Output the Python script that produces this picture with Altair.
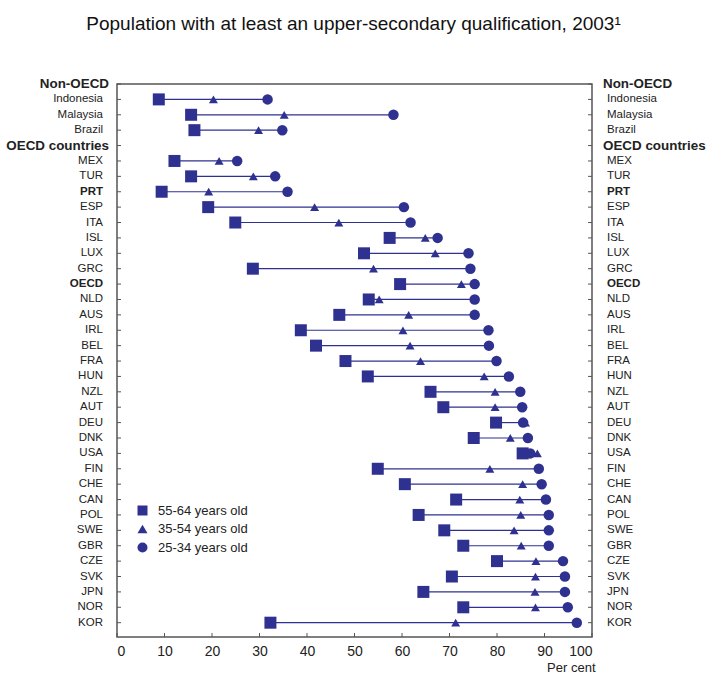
import altair as alt
import pandas as pd

# ---------------- data ----------------
rows = ["Non-OECD", "Indonesia", "Malaysia", "Brazil", "OECD countries",
        "MEX", "TUR", "PRT", "ESP", "ITA", "ISL", "LUX", "GRC", "OECD",
        "NLD", "AUS", "IRL", "BEL", "FRA", "HUN", "NZL", "AUT", "DEU", "DNK",
        "USA", "FIN", "CHE", "CAN", "POL", "SWE", "GBR", "CZE", "SVK", "JPN",
        "NOR", "KOR"]
headers = ["Non-OECD", "OECD countries"]
bold_rows = ["PRT", "OECD"]

countries = [r for r in rows if r not in headers]

age_55_64 = [8.8, 15.6, 16.3, 12.1, 15.6, 9.4, 19.2, 24.9, 57.4, 52.0, 28.6,
             59.6, 53.0, 46.8, 38.7, 41.9, 48.1, 52.8, 66.0, 68.7, 79.8, 75.1,
             85.4, 54.9, 60.6, 71.4, 63.5, 68.9, 72.9, 80.0, 70.5, 64.5, 72.9, 32.3]
age_35_54 = [20.3, 35.2, 29.8, 21.5, 28.7, 19.3, 41.6, 46.7, 64.9, 67.0, 54.0,
             72.5, 55.2, 61.4, 60.2, 61.7, 63.9, 77.3, 79.6, 79.6, 86.0, 82.8,
             88.5, 78.5, 85.4, 84.8, 85.0, 83.6, 85.1, 88.2, 88.1, 88.0, 88.1, 71.3]
age_25_34 = [31.7, 58.2, 34.8, 25.3, 33.3, 35.9, 60.4, 61.8, 67.5, 74.0, 74.4,
             75.3, 75.3, 75.3, 78.2, 78.3, 79.9, 82.5, 84.9, 85.3, 85.5, 86.5,
             87.0, 88.8, 89.4, 90.3, 90.9, 90.9, 90.9, 93.9, 94.3, 94.3, 94.9, 96.8]

series_names = ["55-64 years old", "35-54 years old", "25-34 years old"]
series_values = [age_55_64, age_35_54, age_25_34]
series_shapes = ["square", "triangle-up", "circle"]
series_sizes = [144, 80, 110]
x_ticks = list(range(0, 101, 10))

# ---------------- tables ----------------
long_records = []
for name, vals in zip(series_names, series_values):
    for c, v in zip(countries, vals):
        long_records.append({"row": c, "series": name, "value": v})
points_df = pd.DataFrame(long_records)

labels_df = pd.DataFrame({
    "row": rows,
    "kind": ["head" if r in headers else ("bold" if r in bold_rows else "norm") for r in rows],
})
ticks_df = pd.DataFrame({"t": x_ticks})

NAVY = "#2E3190"
FONT = "Liberation Sans, Arial, Helvetica, sans-serif"
TXT = "#222222"
W, H = 475, 553

yscale = alt.Scale(domain=rows, type="point", padding=0.465, align=0)
Y = alt.Y("row:N", scale=yscale, axis=None)
xscale = alt.Scale(domain=[0, 100], nice=False, zero=True)

base_pts = alt.Chart(points_df)

connectors = base_pts.mark_rule(color=NAVY, strokeWidth=1.2).encode(
    x=alt.X("min(value):Q", scale=xscale,
            axis=alt.Axis(values=x_ticks, ticks=False, tickSize=0, domain=False,
                          grid=False, labelFontSize=14, labelFont=FONT,
                          labelColor=TXT, labelPadding=7,
                          title="Per cent", titleFontSize=13, titleFont=FONT,
                          titleFontWeight="normal", titleColor=TXT,
                          titleAlign="right", titleBaseline="alphabetic",
                          titleX=478, titleY=34)),
    x2="max(value):Q",
    y=Y,
)

shape_enc = alt.Shape(
    "series:N",
    scale=alt.Scale(domain=series_names, range=series_shapes),
    legend=alt.Legend(title=None, orient="none", legendX=19, legendY=420,
                      labelFontSize=13, labelFont=FONT, labelColor=TXT,
                      symbolSize=100, symbolFillColor=NAVY,
                      symbolStrokeColor=NAVY, symbolStrokeWidth=0,
                      rowPadding=4.5, labelOffset=9, padding=0),
)

point_layers = []
for name, sz in zip(series_names, series_sizes):
    point_layers.append(
        base_pts.transform_filter(alt.datum.series == name)
        .mark_point(filled=True, opacity=1, color=NAVY, size=sz)
        .encode(x=alt.X("value:Q", scale=xscale), y=Y, shape=shape_enc)
    )

base_lab = alt.Chart(labels_df)

ytick_left = base_lab.mark_rule(color="#555555", strokeWidth=1).encode(
    y=Y, x=alt.value(0), x2=alt.value(4))
ytick_right = base_lab.mark_rule(color="#555555", strokeWidth=1).encode(
    y=Y, x=alt.value(W - 4), x2=alt.value(W))
xtick = alt.Chart(ticks_df).mark_rule(color="#555555", strokeWidth=1).encode(
    x=alt.X("t:Q", scale=xscale), y=alt.value(H - 4), y2=alt.value(H))


def text_layer(kind, xpos, align, size, weight):
    return base_lab.transform_filter(alt.datum.kind == kind).mark_text(
        align=align, baseline="middle", fontSize=size, fontWeight=weight,
        font=FONT, color=TXT
    ).encode(y=Y, x=alt.value(xpos), text="row:N")


labels = [
    text_layer("norm", -14, "right", 11.5, "normal"),
    text_layer("bold", -14, "right", 11.5, "bold"),
    text_layer("head", -8, "right", 13.4, "bold"),
    text_layer("norm", W + 15, "left", 11.5, "normal"),
    text_layer("bold", W + 15, "left", 11.5, "bold"),
    text_layer("head", W + 11, "left", 13.4, "bold"),
]

chart = alt.layer(
    connectors, ytick_left, ytick_right, xtick, *point_layers, *labels
).properties(
    width=W, height=H,
    title=alt.TitleParams(
        "Population with at least an upper-secondary qualification, 2003¹",
        fontSize=19, fontWeight="normal", font=FONT, color="#111111",
        anchor="middle", dx=-1, baseline="alphabetic", frame="group", offset=28),
    autosize=alt.AutoSizeParams(type="none"),
    padding={"left": 117, "top": 84, "right": 706 - 117 - W, "bottom": 673 - 84 - H},
).configure_view(stroke="#555555", strokeWidth=1.5)

chart.save("out.html", embed_options={"renderer": "svg", "actions": False})
